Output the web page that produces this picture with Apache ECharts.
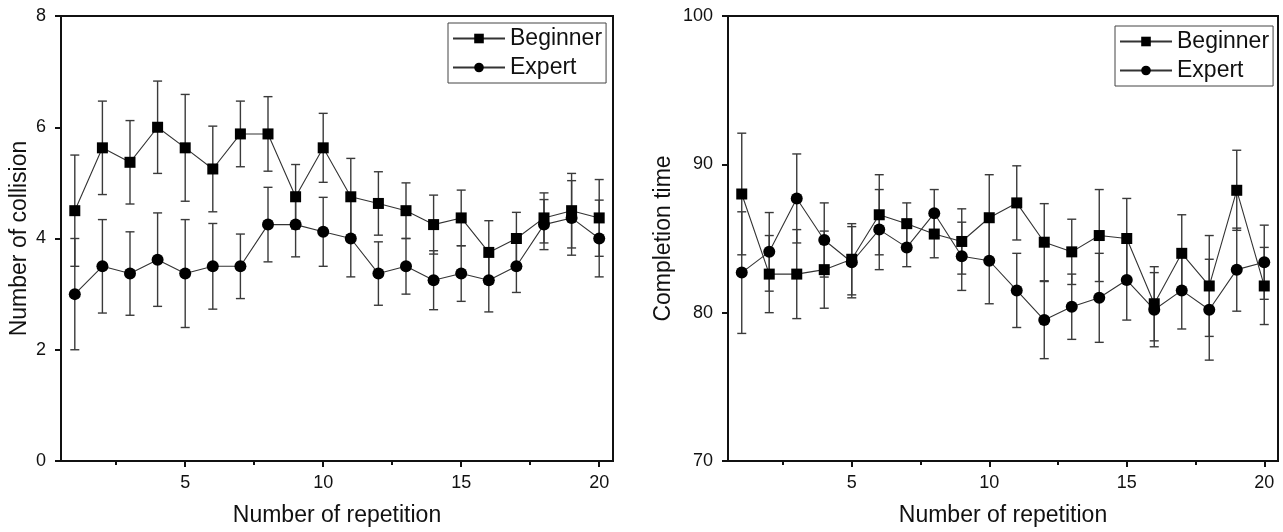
<!DOCTYPE html>
<html><head><meta charset="utf-8">
<script src="https://cdn.jsdelivr.net/npm/echarts@6/dist/echarts.min.js"></script>
<style>html,body{margin:0;padding:0;background:#fff}#c{width:1283px;height:532px}</style>
</head><body><div id="c"></div>
<script>
const reps = [1,2,3,4,5,6,7,8,9,10,11,12,13,14,15,16,17,18,19,20];
const xTicks = [5,10,15,20];
const xMinorTicks = [2.5,7.5,12.5,17.5];

const collBeginner    = [4.5,5.63,5.37,6.0,5.63,5.25,5.88,5.88,4.75,5.63,4.75,4.63,4.5,4.25,4.37,3.75,4.0,4.37,4.5,4.37];
const collBeginnerErr = [1.0,0.84,0.75,0.83,0.96,0.77,0.59,0.67,0.58,0.62,0.69,0.57,0.5,0.53,0.5,0.57,0.47,0.45,0.67,0.69];
const collExpert      = [3.0,3.5,3.37,3.62,3.37,3.5,3.5,4.25,4.25,4.12,4.0,3.37,3.5,3.25,3.37,3.25,3.5,4.25,4.37,4.0];
const collExpertErr   = [1.0,0.84,0.75,0.84,0.97,0.77,0.58,0.67,0.58,0.62,0.69,0.57,0.5,0.53,0.5,0.57,0.47,0.45,0.67,0.69];

const timeBeginner    = [88.0,82.6,82.6,82.9,83.6,86.6,86.0,85.3,84.8,86.4,87.4,84.75,84.1,85.2,85.0,80.6,84.0,81.8,88.25,81.8];
const timeBeginnerErr = [4.1,2.6,3.0,2.6,2.4,2.7,1.4,1.6,2.2,2.9,2.5,2.6,2.2,3.1,2.7,2.5,2.6,3.4,2.7,2.6];
const timeExpert      = [82.7,84.1,87.7,84.9,83.4,85.6,84.4,86.7,83.8,83.5,81.5,79.5,80.4,81.0,82.2,80.2,81.5,80.2,82.9,83.4];
const timeExpertErr   = [4.1,2.65,3.0,2.5,2.4,2.7,1.3,1.6,2.3,2.9,2.5,2.6,2.2,3.0,2.7,2.5,2.6,3.4,2.8,2.5];

const FONT = 'Liberation Sans';
const chart = echarts.init(document.getElementById('c'));

function pts(vals){ return reps.map((r,i)=>[r, vals[i]]); }
function errData(vals, errs){ return reps.map((r,i)=>[r, vals[i], errs[i]]); }
function errSeries(idx, vals, errs){
  return {
    type:'custom', xAxisIndex: idx*2, yAxisIndex: idx, silent:true, z:1,
    data: errData(vals, errs),
    encode:{x:0, y:1},
    renderItem: function(params, api){
      const x = api.value(0), v = api.value(1), e = api.value(2);
      const top = api.coord([x, v+e]);
      const bot = api.coord([x, v-e]);
      const w = 4.5;
      const st = {stroke:'#3a3a3a', lineWidth:1.4};
      return {type:'group', children:[
        {type:'line', shape:{x1:top[0],y1:top[1],x2:bot[0],y2:bot[1]}, style:st},
        {type:'line', shape:{x1:top[0]-w,y1:top[1],x2:top[0]+w,y2:top[1]}, style:st},
        {type:'line', shape:{x1:bot[0]-w,y1:bot[1],x2:bot[0]+w,y2:bot[1]}, style:st}
      ]};
    }
  };
}
function lineSeries(idx, name, vals, symbol, size){
  return {
    type:'line', name:name, xAxisIndex: idx*2, yAxisIndex: idx, z:3,
    data: pts(vals), symbol:symbol, symbolSize:size,
    itemStyle:{color:'#000'}, lineStyle:{color:'#333', width:1.1},
    emphasis:{disabled:true}
  };
}
const grids = [
  {left:61, top:16, width:552, height:446, show:true, borderColor:'#111', borderWidth:2, backgroundColor:'transparent'},
  {left:728, top:16, width:550, height:446, show:true, borderColor:'#111', borderWidth:2, backgroundColor:'transparent'}
];
function xAxes(gi){
  return [
    {type:'value', gridIndex:gi, min:0.5, max:20.5,
     name:'Number of repetition', nameLocation:'middle', nameGap:43,
     nameTextStyle:{fontFamily:FONT, fontSize:23, color:'#111'},
     axisLine:{lineStyle:{color:'#111', width:2}},
     axisTick:{customValues:xTicks, length:6, lineStyle:{color:'#111', width:2}},
     axisLabel:{customValues:xTicks, margin:13, fontFamily:FONT, fontSize:18, color:'#111'},
     splitLine:{show:false}},
    {type:'value', gridIndex:gi, min:0.5, max:20.5, position:'bottom',
     axisLine:{show:false},
     axisTick:{customValues:xMinorTicks, length:4, lineStyle:{color:'#111', width:2}},
     axisLabel:{show:false}, splitLine:{show:false}}
  ];
}
function yAxis(gi, min, max, interval, name, gap){
  return {type:'value', gridIndex:gi, min:min, max:max, interval:interval,
    name:name, nameLocation:'middle', nameGap:gap, nameRotate:90,
    nameTextStyle:{fontFamily:FONT, fontSize:23, color:'#111'},
    axisLine:{show:true, lineStyle:{color:'#111', width:2}},
    axisTick:{show:true, length:6, lineStyle:{color:'#111', width:2}},
    axisLabel:{margin:15, fontFamily:FONT, fontSize:18, color:'#111'},
    splitLine:{show:false}};
}
function legend(left, top){
  return {data:['Beginner','Expert'], orient:'vertical', left:left, top:top,
    itemWidth:52, itemHeight:12, itemGap:4, padding:[3,4,3,4], borderColor:'#444', borderWidth:1,
    textStyle:{fontFamily:FONT, fontSize:23, color:'#111', lineHeight:25}, selectedMode:false};
}
const option = {
  animation:false,
  grid: grids,
  xAxis: [...xAxes(0), ...xAxes(1)],
  yAxis: [
    yAxis(0, 0, 8, 2, 'Number of collision', 30),
    yAxis(1, 70, 100, 10, 'Completion time', 53)
  ],
  legend: [legend(448, 23), legend(1115, 26)],
  series: [
    errSeries(0, collBeginner, collBeginnerErr),
    errSeries(0, collExpert, collExpertErr),
    lineSeries(0, 'Beginner', collBeginner, 'rect', 11),
    lineSeries(0, 'Expert', collExpert, 'circle', 12),
    errSeries(1, timeBeginner, timeBeginnerErr),
    errSeries(1, timeExpert, timeExpertErr),
    lineSeries(1, 'Beginner', timeBeginner, 'rect', 11),
    lineSeries(1, 'Expert', timeExpert, 'circle', 12)
  ]
};
chart.setOption(option);
</script>
</body></html>
